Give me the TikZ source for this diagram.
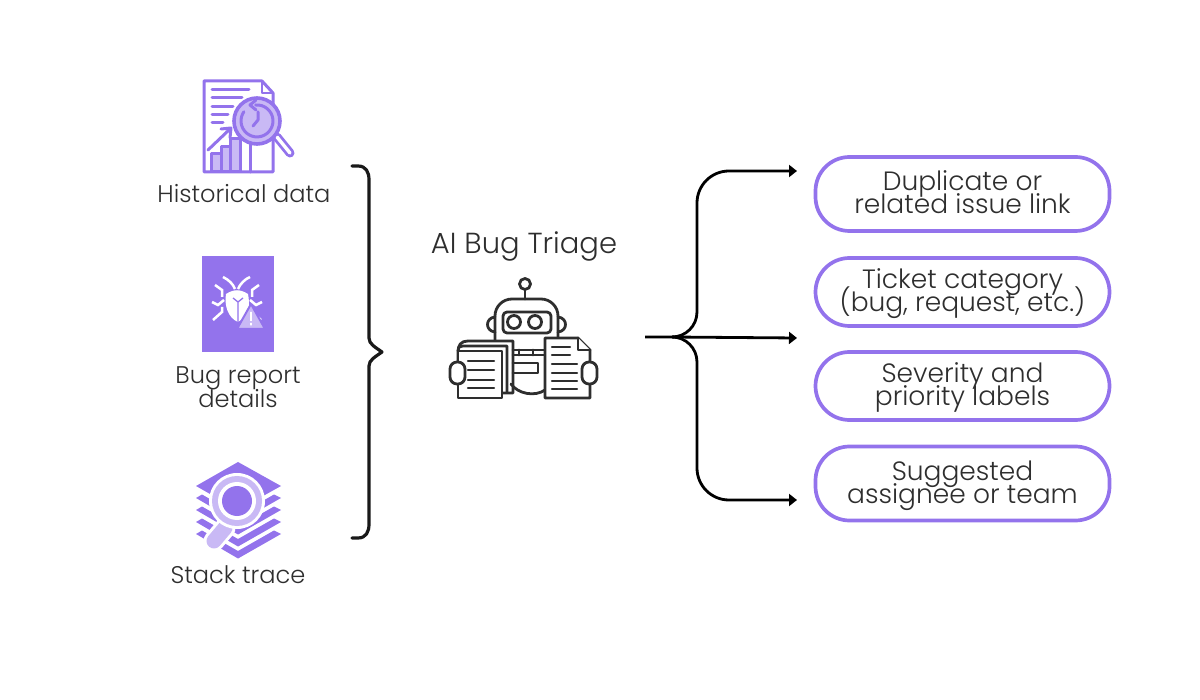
\documentclass[tikz,border=0pt]{standalone}
\usepackage{fontspec}
\setmainfont{Poppins}[UprightFont=* Light]
\usetikzlibrary{arrows.meta}
\definecolor{purp}{HTML}{9373EC}
\definecolor{lilac}{HTML}{C9B9F5}
\definecolor{ink}{HTML}{2E2E2E}
\lineskiplimit=-100pt
\newcommand{\pilltext}[2]{\rule{0pt}{24pt}#1\\#2\rule[-7pt]{0pt}{7pt}}
\tikzset{
  label/.style={inner sep=0pt, text=ink, font=\fontsize{24.1}{24}\selectfont, align=center},
  pill/.style={rounded corners=34pt, draw=purp, line width=3.7pt, minimum width=294pt, inner sep=0pt, text=ink, font=\fontsize{26.5}{23}\selectfont, align=center},
  icon/.style={draw=purp, line width=3pt, line join=round, line cap=round},
  bot/.style={draw=ink, line width=2.8pt, line join=round, line cap=round},
  flow/.style={draw=black, line width=2.8pt, -{Triangle[length=8pt,width=12pt]}},
}
\begin{document}
\begin{tikzpicture}[x=1pt, y=-1pt]
\useasboundingbox (0,0) rectangle (1200,700);
% left labels
\node (hist) [label] at (244, 194) {Historical data};
\node (report) [label] at (238, 387) {Bug report\\details};
\node (trace) [label] at (238, 575) {Stack trace};
\node (triage) [label, font=\fontsize{29}{24}\selectfont] at (524, 246) {AI Bug Triage};
% history icon
\draw [icon] (262,81) -- (204,81) -- (204,172) -- (273,172) -- (273,93) -- cycle;
\draw [icon, line width=2pt] (262,81) -- (262,93) -- (273,93);
\foreach \y/\xend in {90/249, 98/242, 107/233, 115/228, 123/223}
  \draw [icon] (212,\y) -- (\xend,\y);
\draw [icon, fill=lilac] (211,172) rectangle (221,154);
\draw [icon, fill=lilac] (221,172) rectangle (230,147);
\draw [icon, fill=lilac] (230,172) rectangle (240,139);
\draw [icon] (250,172) -- (250,142);
\draw [icon] (208,150) -- (230,129) (221,129) -- (231,128) -- (230,138);
\draw [icon, line width=9pt] (277,137) -- (290,153);
\draw [line width=3.4pt, white, line cap=round] (277,137) -- (290,153);
\draw [icon, line width=3.6pt, fill=lilac] (257,121) circle (23);
\draw [icon] (255.6,105) arc (265:575:16);
\draw [icon] (256,100) -- (250,105) -- (256,110);
\draw [icon] (258,112) -- (258,120) -- (253,126);
% bug icon
\fill [purp] (202,256) rectangle (274,352);
\draw [white, line width=2.5pt] (223,277) .. controls (229,280) and (233,284) .. (235,289)
  (250,277) .. controls (245,279) and (240,284) .. (238,289);
\foreach \s in {-1,1} {
  \begin{scope}[xshift=237pt, xscale=\s]
    \draw [white, line width=2.5pt] (-22,285) -- (-15,290) -- (-15,297)
      (-25,302) -- (-19,305) -- (-13,300)
      (-24,320) -- (-15,312) -- (-15,307);
  \end{scope}
}
\fill [white] (226,294) .. controls (234,289) and (240,289) .. (248,294)
  .. controls (250,305) and (250,315) .. (238,322) .. controls (228,318) and (224,305) .. (226,294) -- cycle;
\draw [purp, line width=1.3pt] (238,322) -- (238,302) (233,298) -- (238,302) -- (243,298);
\draw [purp, fill=lilac, line width=2pt, rounded corners=1.5pt] (251,304) -- (265,329) -- (237,329) -- cycle;
\fill [white] (250.2,312) rectangle (251.8,321) (250.2,323) rectangle (251.8,325.5);
% stack icon
\fill [purp] (238,462) -- (281,486) -- (238,510) -- (196,486) -- cycle;
\foreach \y in {498, 510, 522, 534} {
  \fill [purp] (196,\y) -- (202,\y-3.5) -- (238,\y+17) -- (274,\y-3.5) -- (281,\y) -- (238,\y+24.5) -- cycle;
}
\draw [white, line width=21pt, line cap=round] (225,528) -- (214,541);
\draw [lilac, line width=15pt, line cap=round] (225,528) -- (214,541);
\fill [white] (237,501) circle (28);
\fill [lilac] (237,501) circle (25);
\fill [white] (237,501) circle (19);
\fill [purp] (237,501) circle (15);
% robot icon
\draw [bot] (525,284) circle (5.5);
\draw [bot] (525,290) -- (525,299);
\draw [bot] (495,340) -- (495,316) arc (180:270:17) -- (541,299) arc (270:360:17) -- (558,340);
\draw [bot, rounded corners=4pt] (503,312) rectangle (551,333);
\draw [bot] (514,322) circle (6.5) (535,322) circle (6.5);
\draw [bot] (495,317) .. controls (485,318) and (485,331) .. (495,332);
\draw [bot] (558,317) .. controls (568,318) and (568,331) .. (558,332);
\draw [bot] (513,350) -- (545,350) (513,355) -- (545,355) (519,350) -- (519,355) (533,350) -- (533,355);
\draw [bot] (513,363) -- (538,363) -- (538,373) -- (513,373);
\draw [bot] (511,384) .. controls (518,394) and (535,397) .. (545,390);
\draw [bot] (458,362) -- (458,352) .. controls (458,345) and (461,341) .. (468,341) -- (513,341) -- (513,393) -- (502,393);
\draw [bot, fill=white] (458,351) -- (502,351) -- (502,398) -- (458,398) -- cycle;
\draw [bot] (458,351) .. controls (458,346) and (461,346) .. (466,346) -- (507,346) -- (507,392);
\foreach \y in {361, 370, 380, 388}
  \draw [bot, line width=2.2pt] (468,\y) -- (494,\y);
\draw [bot, fill=white] (578,338) -- (545,338) -- (545,398) -- (590,398) -- (590,350) -- cycle;
\draw [bot, fill=white] (578,338) -- (578,350) -- (590,350);
\foreach \y/\xend in {347/570, 355/570, 364/577, 373/577, 381/577, 389/577}
  \draw [bot, line width=2.2pt] (552,\y) -- (\xend,\y);
\draw [bot, fill=white, rounded corners=7pt] (450,362) rectangle (465,384);
\draw [bot, fill=white, rounded corners=7pt] (582,362) rectangle (597,384);
% brace
\draw [line width=3.2pt, line cap=round, line join=round, draw=black!90]
  (352,166) -- (358,166) .. controls (366,166) and (369,172) .. (369,180) -- (369,338)
  .. controls (369,344) and (375,347) .. (382,352)
  .. controls (375,357) and (369,360) .. (369,366) -- (369,524)
  .. controls (369,532) and (366,538) .. (358,538) -- (352,538);
% outputs
\node (dup) [pill, minimum height=74pt] at (962.5, 194) {\pilltext{Duplicate or}{related issue link}};
\node (cat) [pill, minimum height=68pt] at (962.5, 292) {\pilltext{Ticket category}{(bug, request, etc.)}};
\node (sev) [pill, minimum height=68pt] at (962.5, 386) {\pilltext{Severity and}{priority labels}};
\node (who) [pill, minimum height=74pt] at (962.5, 483.5) {\pilltext{Suggested}{assignee or team}};
% connectors
\coordinate (hub) at (645,337);
\coordinate (fork) at (672,337);
\coordinate (spine) at (697,337);
\coordinate (upend) at (797,171);
\coordinate (midend) at (797,338);
\coordinate (lowend) at (797,500);
\draw [flow] (fork) [rounded corners=25pt] -- (spine) [rounded corners=32pt] -- (spine |- upend) -- (upend);
\draw [flow] (hub) -- (fork) -- (midend);
\draw [flow] (fork) [rounded corners=25pt] -- (spine) [rounded corners=32pt] -- (spine |- lowend) -- (lowend);
\end{tikzpicture}
\end{document}
